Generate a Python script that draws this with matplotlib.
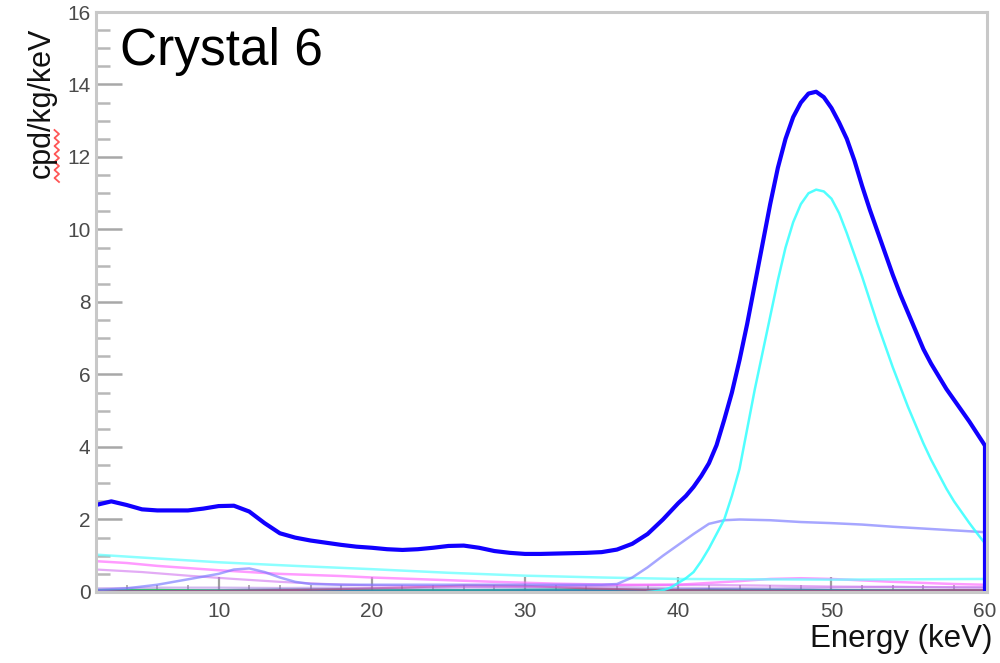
import numpy as np
import matplotlib
matplotlib.use("Agg")
import matplotlib.pyplot as plt
from matplotlib.lines import Line2D
from matplotlib.ticker import MultipleLocator

plt.rcParams['font.family'] = ['Liberation Sans', 'DejaVu Sans']

# Total spectrum: 1 keV steps up to 39 keV, 0.5 keV steps across the peak
energy = list(range(2, 40)) + [v / 2 for v in range(80, 117)] + [59, 60]
total = [2.40, 2.50, 2.40, 2.28, 2.25, 2.25, 2.25, 2.30, 2.37, 2.38,   # 2-11
         2.22, 1.90, 1.62, 1.50, 1.42, 1.36, 1.30, 1.25, 1.22, 1.18,   # 12-21
         1.16, 1.18, 1.22, 1.27, 1.28, 1.22, 1.13, 1.08, 1.05, 1.05,   # 22-31
         1.06, 1.07, 1.08, 1.10, 1.17, 1.33, 1.60, 2.00,               # 32-39
         2.45, 2.65, 2.90, 3.20, 3.55, 4.05, 4.75, 5.50, 6.40, 7.40,   # 40-44.5
         8.50, 9.60, 10.7, 11.7, 12.5, 13.1, 13.5, 13.75, 13.8, 13.65, # 45-49.5
         13.35, 12.95, 12.5, 11.9, 11.2, 10.55, 9.95, 9.35, 8.75, 8.2, # 50-54.5
         7.70, 7.20, 6.70, 6.30, 5.95, 5.60, 5.30,                     # 55-58
         4.70, 4.05]                                                   # 59-60

# 49 keV line component, 0.5 keV steps from 38 to 60 keV
peak_e = [v / 2 for v in range(76, 121)]
peak = [0.0, 0.02, 0.05, 0.12, 0.25, 0.38,
        0.55, 0.85, 1.2, 1.6, 2.0, 2.65, 3.4, 4.5, 5.6, 6.6,
        7.6, 8.6, 9.5, 10.2, 10.7, 11.0, 11.1, 11.05, 10.85, 10.45,
        9.9, 9.3, 8.7, 8.05, 7.4, 6.8, 6.2, 5.65, 5.1, 4.6,
        4.1, 3.65, 3.25, 2.85, 2.5, 2.2, 1.9, 1.62, 1.35]

# Smooth continuum component
cont_e = [2, 5, 10, 15, 20, 25, 30, 35, 40, 45, 50, 55, 60]
cont = [1.03, 0.95, 0.82, 0.72, 0.63, 0.53, 0.45, 0.40, 0.36, 0.35, 0.34, 0.35, 0.36]

# Step component with low-energy bump
slate_e = [2, 4, 6, 8, 10, 11, 12, 13, 14, 15, 16, 18, 25, 30, 35, 36, 37,
           38, 39, 40, 41, 42, 43, 44, 46, 48, 50, 52, 54, 56, 58, 60]
slate = [0.05, 0.10, 0.20, 0.35, 0.50, 0.62, 0.65, 0.55, 0.40, 0.28, 0.22,
         0.20, 0.20, 0.20, 0.20, 0.22, 0.40, 0.68, 1.00, 1.30, 1.60, 1.88,
         1.98, 2.00, 1.98, 1.93, 1.90, 1.86, 1.80, 1.75, 1.70, 1.65]

# Magenta components
m1_e = [2, 4, 6, 8, 10, 12, 14, 16, 18, 20, 24, 28, 32, 36, 40, 42, 44, 46,
        48, 50, 52, 54, 56, 58, 60]
m1 = [0.85, 0.80, 0.72, 0.66, 0.60, 0.55, 0.50, 0.47, 0.44, 0.40, 0.34, 0.28,
      0.23, 0.20, 0.20, 0.25, 0.30, 0.36, 0.38, 0.36, 0.32, 0.28, 0.25, 0.22, 0.20]
m2_e = [2, 5, 8, 11, 14, 17, 20, 25, 30, 35, 40, 45, 50, 55, 60]
m2 = [0.62, 0.55, 0.45, 0.36, 0.28, 0.22, 0.18, 0.15, 0.14, 0.18, 0.20, 0.18,
      0.15, 0.14, 0.13]

# Minor background components
small_e = [2, 6, 10, 14, 18, 22, 26, 30, 34, 38, 42, 46, 50, 54, 58, 60]
small_green = [0.04, 0.05, 0.03, 0.02, 0.02, 0.04, 0.03, 0.02, 0.02, 0.02,
               0.02, 0.03, 0.02, 0.02, 0.03, 0.02]
small_blue = [0.01, 0.02, 0.03, 0.05, 0.04, 0.03, 0.04, 0.05, 0.06, 0.05,
              0.07, 0.06, 0.05, 0.04, 0.04, 0.04]
small_teal = [0.06, 0.04, 0.05, 0.07, 0.08, 0.06, 0.05, 0.07, 0.08, 0.07,
              0.05, 0.06, 0.05, 0.06, 0.05, 0.05]
small_violet = [0.10, 0.12, 0.12, 0.11, 0.12, 0.10, 0.12, 0.13, 0.14, 0.12,
                0.11, 0.10, 0.12, 0.14, 0.12, 0.12]
small_crimson = [0.02, 0.02, 0.03, 0.05, 0.08, 0.12, 0.18, 0.17, 0.10, 0.06,
                 0.04, 0.03, 0.03, 0.04, 0.05, 0.05]

fig = plt.figure(figsize=(10, 6.63), dpi=100)
ax = fig.add_axes([0.096, 0.1071, 0.891, 0.8748])

ax.plot(small_e, small_green, color='#33cc44', lw=2.0, alpha=0.9)
ax.plot(small_e, small_blue, color='#3366cc', lw=1.8, alpha=0.8)
ax.plot(small_e, small_teal, color='#22aa99', lw=1.6, alpha=0.6)
ax.plot(small_e, small_crimson, color='#dd3377', lw=1.6, alpha=0.6)
ax.plot(small_e, small_violet, color='#9966dd', lw=1.6, alpha=0.45)
ax.plot(m2_e, m2, color='#cc66ee', lw=1.6, alpha=0.55)
ax.plot(m1_e, m1, color='#ff66ff', lw=1.8, alpha=0.65)
ax.plot(cont_e, cont, color='#66ffff', lw=1.8, alpha=0.75)
ax.plot(slate_e, slate, color='#7777ff', lw=1.8, alpha=0.65)
ax.plot(peak_e, peak, color='#33ffff', lw=1.8, alpha=0.85)
ax.plot(energy, total, color='#1100ff', lw=3.0, solid_joinstyle='round')
ax.vlines(energy[-1], 0, total[-1], color='#1100ff', lw=3.0)

ax.set_xlim(2, 60.15)
ax.set_ylim(0, 16)

frame_grey = '#c8c8c8'
for side in ['left', 'right', 'top', 'bottom']:
    ax.spines[side].set_color(frame_grey)
    ax.spines[side].set_linewidth(2.2)

ax.xaxis.set_major_locator(MultipleLocator(10))
ax.xaxis.set_minor_locator(MultipleLocator(2))
ax.yaxis.set_major_locator(MultipleLocator(2))
ax.yaxis.set_minor_locator(MultipleLocator(0.5))

ax.tick_params(axis='y', which='major', direction='in', length=19, width=1.8,
               color='#a8a8a8', labelsize=15, labelcolor='#4a4a4a', pad=4)
ax.tick_params(axis='y', which='minor', direction='in', length=10, width=1.8,
               color='#b8b8b8')
ax.tick_params(axis='x', which='major', direction='in', length=11, width=1.6,
               color='#a0a0a0', labelsize=15, labelcolor='#4a4a4a', pad=7)
ax.tick_params(axis='x', which='minor', direction='in', length=5, width=1.4,
               color='#b0b0b0')

fig.text(0.120, 1 - 65 / 663, 'Crystal 6', fontsize=37, color='black',
         ha='left', va='baseline')
fig.text(0.042, 1 - 28 / 663, 'cpd/kg/keV', fontsize=22, color='#111111',
         rotation=90, ha='center', va='top')
fig.text(0.993, 1 - 647 / 663, 'Energy (keV)', fontsize=22.5, color='#111111',
         ha='right', va='baseline')

# spell-check style wavy underline beside the axis title
ys = np.arange(130, 184, 4)
xs = np.where(np.arange(len(ys)) % 2 == 0, 54.5, 59.0)
fig.add_artist(Line2D(xs / 1000, 1 - ys / 663, transform=fig.transFigure,
                      color='#ff5555', lw=1.3))

fig.savefig('out.png', dpi=100, facecolor='white')
